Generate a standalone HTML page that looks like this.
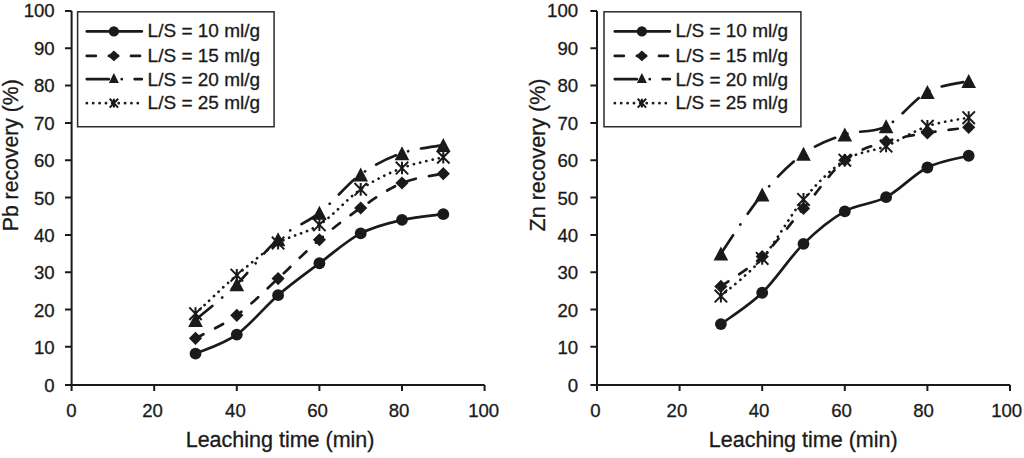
<!DOCTYPE html>
<html><head><meta charset="utf-8"><title>Leaching recovery charts</title>
<style>
html,body{margin:0;padding:0;background:#fff;}
svg{display:block;}
text{font-family:"Liberation Sans",Arial,Helvetica,sans-serif;fill:#1a1a1a;stroke:#1a1a1a;stroke-width:0.3px;}
.tk{font-size:18.6px;}
.lg{font-size:19px;}
.ti{font-size:21.5px;}
</style></head><body>
<svg width="1024" height="458" viewBox="0 0 1024 458">
<rect width="1024" height="458" fill="#fff"/>
<path d="M71.60 10.90V385.10H484.60" stroke="#1a1a1a" stroke-width="2.0" fill="none" stroke-linejoin="miter"/>
<path d="M65.00 346.87H71.60M65.00 309.54H71.60M65.00 272.21H71.60M65.00 234.88H71.60M65.00 197.55H71.60M65.00 160.22H71.60M65.00 122.89H71.60M65.00 85.56H71.60M65.00 48.23H71.60M65.00 10.90H71.60M65.00 385.10H71.60M71.60 385.10V391.10M154.20 385.10V391.10M236.80 385.10V391.10M319.40 385.10V391.10M402.00 385.10V391.10M484.60 385.10V391.10" stroke="#1a1a1a" stroke-width="2.0" fill="none"/>
<text x="54.70" y="391.90" text-anchor="end" class="tk">0</text>
<text x="54.70" y="354.42" text-anchor="end" class="tk">10</text>
<text x="54.70" y="316.94" text-anchor="end" class="tk">20</text>
<text x="54.70" y="279.46" text-anchor="end" class="tk">30</text>
<text x="54.70" y="241.98" text-anchor="end" class="tk">40</text>
<text x="54.70" y="204.50" text-anchor="end" class="tk">50</text>
<text x="54.70" y="167.02" text-anchor="end" class="tk">60</text>
<text x="54.70" y="129.54" text-anchor="end" class="tk">70</text>
<text x="54.70" y="92.06" text-anchor="end" class="tk">80</text>
<text x="54.70" y="54.58" text-anchor="end" class="tk">90</text>
<text x="54.70" y="17.10" text-anchor="end" class="tk">100</text>
<text x="71.50" y="416.9" text-anchor="middle" class="tk">0</text>
<text x="152.60" y="416.9" text-anchor="middle" class="tk">20</text>
<text x="235.40" y="416.9" text-anchor="middle" class="tk">40</text>
<text x="317.50" y="416.9" text-anchor="middle" class="tk">60</text>
<text x="399.10" y="416.9" text-anchor="middle" class="tk">80</text>
<text x="483.70" y="416.9" text-anchor="middle" class="tk">100</text>
<text x="185.70" y="447.4" class="ti">Leaching time (min)</text>
<text transform="translate(18.40 231.2) rotate(-90)" x="0" y="0" class="ti" style="font-size:21.2px">Pb recovery (%)</text>
<rect x="77.60" y="11.80" width="196.50" height="114.95" fill="#fff" stroke="#2a2a2a" stroke-width="1.5"/>
<path d="M86.80 31.45H141.80" stroke="#1a1a1a" stroke-width="2.7" stroke-linecap="round" fill="none"/>
<circle cx="113.90" cy="31.45" r="5.15" fill="#1a1a1a"/>
<text x="147.60" y="37.20" class="lg">L/S = 10 ml/g</text>
<path d="M86.80 55.90H141.80" stroke="#1a1a1a" stroke-width="2.7" stroke-linecap="round" fill="none" stroke-dasharray="9.0 13.1"/>
<path d="M113.90 50.50L119.90 55.90L113.90 61.30L107.90 55.90Z" fill="#1a1a1a"/>
<text x="147.60" y="61.90" class="lg">L/S = 15 ml/g</text>
<path d="M86.80 79.20H141.80" stroke="#1a1a1a" stroke-width="2.7" stroke-linecap="round" fill="none" stroke-dasharray="22.0 12.9 0.1 12.9"/>
<path d="M113.90 73.10L118.90 83.10L108.90 83.10Z" fill="#1a1a1a"/>
<text x="147.60" y="85.70" class="lg">L/S = 20 ml/g</text>
<path d="M86.80 103.20H138.30" stroke="#1a1a1a" stroke-width="2.7" stroke-linecap="round" fill="none" stroke-dasharray="0.1 6.27"/>
<path d="M109.70 98.80L118.10 107.60M118.10 98.80L109.70 107.60M113.90 98.80L113.90 107.60" stroke="#1a1a1a" stroke-width="2.0" fill="none"/>
<text x="147.60" y="109.30" class="lg">L/S = 25 ml/g</text>
<path d="M195.50 353.59C202.38 350.42 223.03 344.29 236.80 334.55C250.57 324.81 264.33 307.05 278.10 295.17C291.87 283.28 305.63 273.55 319.40 263.25C333.17 252.95 346.93 240.60 360.70 233.39C374.47 226.17 388.23 223.15 402.00 219.95C415.77 216.74 436.42 215.13 443.30 214.16" stroke="#1a1a1a" stroke-width="2.7" stroke-linecap="round" stroke-linejoin="round" fill="none"/>
<path d="M195.50 338.28C202.38 334.45 223.03 325.24 236.80 315.29C250.57 305.33 264.33 291.15 278.10 278.56C291.87 265.96 305.63 251.49 319.40 239.73C333.17 227.97 346.93 217.46 360.70 208.00C374.47 198.55 388.23 188.72 402.00 182.99C415.77 177.27 436.42 175.21 443.30 173.66" stroke="#1a1a1a" stroke-width="2.7" stroke-linecap="round" stroke-linejoin="round" fill="none" stroke-dasharray="9.0 13.1"/>
<path d="M195.50 319.99C202.38 314.02 223.03 297.63 236.80 284.16C250.57 270.69 264.33 251.06 278.10 239.17C291.87 227.29 305.63 223.65 319.40 212.86C333.17 202.06 346.93 184.36 360.70 174.41C374.47 164.45 388.23 158.01 402.00 153.13C415.77 148.24 436.42 146.44 443.30 145.10" stroke="#1a1a1a" stroke-width="2.7" stroke-linecap="round" stroke-linejoin="round" fill="none" stroke-dasharray="22.0 12.9 0.1 12.9"/>
<path d="M195.50 313.65C202.38 307.24 223.03 286.96 236.80 275.20C250.57 263.44 264.33 251.49 278.10 243.09C291.87 234.69 305.63 233.76 319.40 224.80C333.17 215.84 346.93 198.79 360.70 189.34C374.47 179.88 388.23 173.41 402.00 168.06C415.77 162.71 436.42 159.04 443.30 157.23" stroke="#1a1a1a" stroke-width="2.7" stroke-linecap="round" stroke-linejoin="round" fill="none" stroke-dasharray="0.1 6.27"/>
<circle cx="195.50" cy="353.59" r="5.90" fill="#1a1a1a"/>
<circle cx="236.80" cy="334.55" r="5.90" fill="#1a1a1a"/>
<circle cx="278.10" cy="295.17" r="5.90" fill="#1a1a1a"/>
<circle cx="319.40" cy="263.25" r="5.90" fill="#1a1a1a"/>
<circle cx="360.70" cy="233.39" r="5.90" fill="#1a1a1a"/>
<circle cx="402.00" cy="219.95" r="5.90" fill="#1a1a1a"/>
<circle cx="443.30" cy="214.16" r="5.90" fill="#1a1a1a"/>
<path d="M195.50 331.68L202.10 338.28L195.50 344.88L188.90 338.28Z" fill="#1a1a1a"/>
<path d="M236.80 308.69L243.40 315.29L236.80 321.89L230.20 315.29Z" fill="#1a1a1a"/>
<path d="M278.10 271.96L284.70 278.56L278.10 285.16L271.50 278.56Z" fill="#1a1a1a"/>
<path d="M319.40 233.13L326.00 239.73L319.40 246.33L312.80 239.73Z" fill="#1a1a1a"/>
<path d="M360.70 201.40L367.30 208.00L360.70 214.60L354.10 208.00Z" fill="#1a1a1a"/>
<path d="M402.00 176.39L408.60 182.99L402.00 189.59L395.40 182.99Z" fill="#1a1a1a"/>
<path d="M443.30 167.06L449.90 173.66L443.30 180.26L436.70 173.66Z" fill="#1a1a1a"/>
<path d="M195.50 312.99L202.80 326.99L188.20 326.99Z" fill="#1a1a1a"/>
<path d="M236.80 277.16L244.10 291.16L229.50 291.16Z" fill="#1a1a1a"/>
<path d="M278.10 232.17L285.40 246.17L270.80 246.17Z" fill="#1a1a1a"/>
<path d="M319.40 205.86L326.70 219.86L312.10 219.86Z" fill="#1a1a1a"/>
<path d="M360.70 167.41L368.00 181.41L353.40 181.41Z" fill="#1a1a1a"/>
<path d="M402.00 146.13L409.30 160.13L394.70 160.13Z" fill="#1a1a1a"/>
<path d="M443.30 138.10L450.60 152.10L436.00 152.10Z" fill="#1a1a1a"/>
<path d="M189.30 307.35L201.70 319.95M201.70 307.35L189.30 319.95M195.50 307.35L195.50 319.95" stroke="#1a1a1a" stroke-width="2.0" fill="none"/>
<path d="M230.60 268.90L243.00 281.50M243.00 268.90L230.60 281.50M236.80 268.90L236.80 281.50" stroke="#1a1a1a" stroke-width="2.0" fill="none"/>
<path d="M271.90 236.79L284.30 249.39M284.30 236.79L271.90 249.39M278.10 236.79L278.10 249.39" stroke="#1a1a1a" stroke-width="2.0" fill="none"/>
<path d="M313.20 218.50L325.60 231.10M325.60 218.50L313.20 231.10M319.40 218.50L319.40 231.10" stroke="#1a1a1a" stroke-width="2.0" fill="none"/>
<path d="M354.50 183.04L366.90 195.64M366.90 183.04L354.50 195.64M360.70 183.04L360.70 195.64" stroke="#1a1a1a" stroke-width="2.0" fill="none"/>
<path d="M395.80 161.76L408.20 174.36M408.20 161.76L395.80 174.36M402.00 161.76L402.00 174.36" stroke="#1a1a1a" stroke-width="2.0" fill="none"/>
<path d="M437.10 150.93L449.50 163.53M449.50 150.93L437.10 163.53M443.30 150.93L443.30 163.53" stroke="#1a1a1a" stroke-width="2.0" fill="none"/>
<path d="M597.00 10.90V385.10H1010.00" stroke="#1a1a1a" stroke-width="2.0" fill="none" stroke-linejoin="miter"/>
<path d="M590.40 346.87H597.00M590.40 309.54H597.00M590.40 272.21H597.00M590.40 234.88H597.00M590.40 197.55H597.00M590.40 160.22H597.00M590.40 122.89H597.00M590.40 85.56H597.00M590.40 48.23H597.00M590.40 10.90H597.00M590.40 385.10H597.00M597.00 385.10V391.10M679.60 385.10V391.10M762.20 385.10V391.10M844.80 385.10V391.10M927.40 385.10V391.10M1010.00 385.10V391.10" stroke="#1a1a1a" stroke-width="2.0" fill="none"/>
<text x="578.10" y="391.90" text-anchor="end" class="tk">0</text>
<text x="578.10" y="354.42" text-anchor="end" class="tk">10</text>
<text x="578.10" y="316.94" text-anchor="end" class="tk">20</text>
<text x="578.10" y="279.46" text-anchor="end" class="tk">30</text>
<text x="578.10" y="241.98" text-anchor="end" class="tk">40</text>
<text x="578.10" y="204.50" text-anchor="end" class="tk">50</text>
<text x="578.10" y="167.02" text-anchor="end" class="tk">60</text>
<text x="578.10" y="129.54" text-anchor="end" class="tk">70</text>
<text x="578.10" y="92.06" text-anchor="end" class="tk">80</text>
<text x="578.10" y="54.58" text-anchor="end" class="tk">90</text>
<text x="578.10" y="17.10" text-anchor="end" class="tk">100</text>
<text x="595.50" y="416.9" text-anchor="middle" class="tk">0</text>
<text x="676.90" y="416.9" text-anchor="middle" class="tk">20</text>
<text x="759.10" y="416.9" text-anchor="middle" class="tk">40</text>
<text x="841.60" y="416.9" text-anchor="middle" class="tk">60</text>
<text x="923.50" y="416.9" text-anchor="middle" class="tk">80</text>
<text x="1006.70" y="416.9" text-anchor="middle" class="tk">100</text>
<text x="708.80" y="447.4" class="ti">Leaching time (min)</text>
<text transform="translate(545.20 231.4) rotate(-90)" x="0" y="0" class="ti" style="font-size:21.5px">Zn recovery (%)</text>
<rect x="604.00" y="11.80" width="196.90" height="114.95" fill="#fff" stroke="#2a2a2a" stroke-width="1.5"/>
<path d="M614.80 31.45H669.80" stroke="#1a1a1a" stroke-width="2.7" stroke-linecap="round" fill="none"/>
<circle cx="641.90" cy="31.45" r="5.15" fill="#1a1a1a"/>
<text x="675.60" y="37.20" class="lg">L/S = 10 ml/g</text>
<path d="M614.80 55.90H669.80" stroke="#1a1a1a" stroke-width="2.7" stroke-linecap="round" fill="none" stroke-dasharray="9.0 13.1"/>
<path d="M641.90 50.50L647.90 55.90L641.90 61.30L635.90 55.90Z" fill="#1a1a1a"/>
<text x="675.60" y="61.90" class="lg">L/S = 15 ml/g</text>
<path d="M614.80 79.20H669.80" stroke="#1a1a1a" stroke-width="2.7" stroke-linecap="round" fill="none" stroke-dasharray="22.0 12.9 0.1 12.9"/>
<path d="M641.90 73.10L646.90 83.10L636.90 83.10Z" fill="#1a1a1a"/>
<text x="675.60" y="85.70" class="lg">L/S = 20 ml/g</text>
<path d="M614.80 103.20H666.30" stroke="#1a1a1a" stroke-width="2.7" stroke-linecap="round" fill="none" stroke-dasharray="0.1 6.27"/>
<path d="M637.70 98.80L646.10 107.60M646.10 98.80L637.70 107.60M641.90 98.80L641.90 107.60" stroke="#1a1a1a" stroke-width="2.0" fill="none"/>
<text x="675.60" y="109.30" class="lg">L/S = 25 ml/g</text>
<path d="M720.90 324.10C727.78 318.87 748.43 306.12 762.20 292.74C775.97 279.36 789.73 257.40 803.50 243.84C817.27 230.28 831.03 219.14 844.80 211.36C858.57 203.59 872.33 204.49 886.10 197.18C899.87 189.87 913.63 174.41 927.40 167.50C941.17 160.59 961.82 157.70 968.70 155.74" stroke="#1a1a1a" stroke-width="2.7" stroke-linecap="round" stroke-linejoin="round" fill="none"/>
<path d="M720.90 286.40C727.78 281.42 748.43 269.53 762.20 256.53C775.97 243.53 789.73 224.43 803.50 208.38C817.27 192.32 831.03 171.36 844.80 160.22C858.57 149.08 872.33 146.10 886.10 141.55C899.87 137.01 913.63 135.33 927.40 132.97C941.17 130.60 961.82 128.30 968.70 127.37" stroke="#1a1a1a" stroke-width="2.7" stroke-linecap="round" stroke-linejoin="round" fill="none" stroke-dasharray="9.0 13.1"/>
<path d="M720.90 253.54C727.78 243.68 748.43 210.99 762.20 194.38C775.97 177.77 789.73 163.86 803.50 153.87C817.27 143.89 831.03 139.07 844.80 134.46C858.57 129.86 872.33 133.34 886.10 126.25C899.87 119.16 913.63 99.43 927.40 91.91C941.17 84.38 961.82 82.88 968.70 81.08" stroke="#1a1a1a" stroke-width="2.7" stroke-linecap="round" stroke-linejoin="round" fill="none" stroke-dasharray="22.0 12.9 0.1 12.9"/>
<path d="M720.90 296.10C727.78 289.82 748.43 274.51 762.20 258.40C775.97 242.28 789.73 215.78 803.50 199.42C817.27 183.05 831.03 169.12 844.80 160.22C858.57 151.32 872.33 151.70 886.10 146.03C899.87 140.37 913.63 130.98 927.40 126.25C941.17 121.52 961.82 119.09 968.70 117.66" stroke="#1a1a1a" stroke-width="2.7" stroke-linecap="round" stroke-linejoin="round" fill="none" stroke-dasharray="0.1 6.27"/>
<circle cx="720.90" cy="324.10" r="5.90" fill="#1a1a1a"/>
<circle cx="762.20" cy="292.74" r="5.90" fill="#1a1a1a"/>
<circle cx="803.50" cy="243.84" r="5.90" fill="#1a1a1a"/>
<circle cx="844.80" cy="211.36" r="5.90" fill="#1a1a1a"/>
<circle cx="886.10" cy="197.18" r="5.90" fill="#1a1a1a"/>
<circle cx="927.40" cy="167.50" r="5.90" fill="#1a1a1a"/>
<circle cx="968.70" cy="155.74" r="5.90" fill="#1a1a1a"/>
<path d="M720.90 279.80L727.50 286.40L720.90 293.00L714.30 286.40Z" fill="#1a1a1a"/>
<path d="M762.20 249.93L768.80 256.53L762.20 263.13L755.60 256.53Z" fill="#1a1a1a"/>
<path d="M803.50 201.78L810.10 208.38L803.50 214.98L796.90 208.38Z" fill="#1a1a1a"/>
<path d="M844.80 153.62L851.40 160.22L844.80 166.82L838.20 160.22Z" fill="#1a1a1a"/>
<path d="M886.10 134.95L892.70 141.55L886.10 148.15L879.50 141.55Z" fill="#1a1a1a"/>
<path d="M927.40 126.37L934.00 132.97L927.40 139.57L920.80 132.97Z" fill="#1a1a1a"/>
<path d="M968.70 120.77L975.30 127.37L968.70 133.97L962.10 127.37Z" fill="#1a1a1a"/>
<path d="M720.90 246.54L728.20 260.54L713.60 260.54Z" fill="#1a1a1a"/>
<path d="M762.20 187.38L769.50 201.38L754.90 201.38Z" fill="#1a1a1a"/>
<path d="M803.50 146.87L810.80 160.87L796.20 160.87Z" fill="#1a1a1a"/>
<path d="M844.80 127.46L852.10 141.46L837.50 141.46Z" fill="#1a1a1a"/>
<path d="M886.10 119.25L893.40 133.25L878.80 133.25Z" fill="#1a1a1a"/>
<path d="M927.40 84.91L934.70 98.91L920.10 98.91Z" fill="#1a1a1a"/>
<path d="M968.70 74.08L976.00 88.08L961.40 88.08Z" fill="#1a1a1a"/>
<path d="M714.70 289.80L727.10 302.40M727.10 289.80L714.70 302.40M720.90 289.80L720.90 302.40" stroke="#1a1a1a" stroke-width="2.0" fill="none"/>
<path d="M756.00 252.10L768.40 264.70M768.40 252.10L756.00 264.70M762.20 252.10L762.20 264.70" stroke="#1a1a1a" stroke-width="2.0" fill="none"/>
<path d="M797.30 193.12L809.70 205.72M809.70 193.12L797.30 205.72M803.50 193.12L803.50 205.72" stroke="#1a1a1a" stroke-width="2.0" fill="none"/>
<path d="M838.60 153.92L851.00 166.52M851.00 153.92L838.60 166.52M844.80 153.92L844.80 166.52" stroke="#1a1a1a" stroke-width="2.0" fill="none"/>
<path d="M879.90 139.73L892.30 152.33M892.30 139.73L879.90 152.33M886.10 139.73L886.10 152.33" stroke="#1a1a1a" stroke-width="2.0" fill="none"/>
<path d="M921.20 119.95L933.60 132.55M933.60 119.95L921.20 132.55M927.40 119.95L927.40 132.55" stroke="#1a1a1a" stroke-width="2.0" fill="none"/>
<path d="M962.50 111.36L974.90 123.96M974.90 111.36L962.50 123.96M968.70 111.36L968.70 123.96" stroke="#1a1a1a" stroke-width="2.0" fill="none"/>
</svg>
</body></html>
